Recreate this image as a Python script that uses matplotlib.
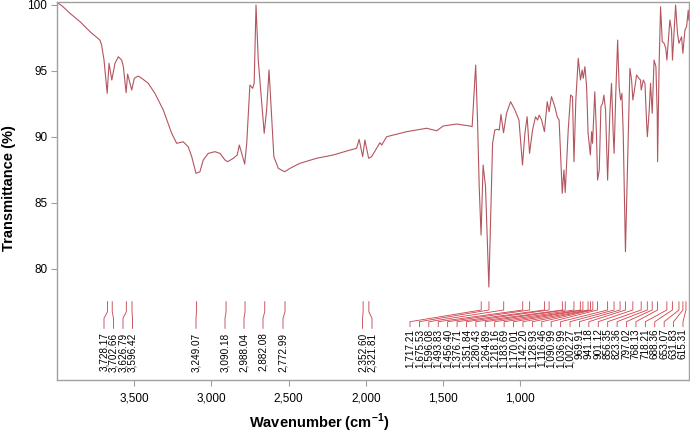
import matplotlib
matplotlib.use('Agg')
import matplotlib.pyplot as plt
from matplotlib.transforms import blended_transform_factory

plt.rcParams['font.family'] = ['Liberation Sans', 'DejaVu Sans']
plt.rcParams['mathtext.fontset'] = 'custom'
plt.rcParams['mathtext.rm'] = 'Liberation Sans'
plt.rcParams['mathtext.bf'] = 'Liberation Sans:bold'

# ---------------- data ----------------
wavenumber = [4000, 3973, 3930, 3876, 3822, 3769, 3760, 3747, 3730, 3720, 3705, 3688, 3670, 3652,
              3643, 3628, 3620, 3598, 3584, 3563, 3544, 3509, 3473, 3428, 3383, 3356, 3321, 3294,
              3275, 3252, 3231, 3213, 3186, 3150, 3123, 3096, 3082, 3051, 3030, 3019, 3006, 2990,
              2979, 2962, 2947, 2939, 2929, 2917, 2885, 2872, 2859, 2845, 2833, 2809, 2775, 2746,
              2693, 2603, 2513, 2424, 2388, 2374, 2355, 2343, 2323, 2307, 2262, 2253, 2226, 2119,
              2011, 1957, 1922, 1850, 1778, 1766, 1747, 1737, 1728, 1718, 1707, 1694, 1676, 1665,
              1656, 1644, 1631, 1620, 1611, 1597, 1581, 1559, 1536, 1514, 1495, 1482, 1470, 1457,
              1441, 1425, 1414, 1405, 1392, 1377, 1362, 1352, 1339, 1321, 1308, 1298, 1281, 1272,
              1265, 1249, 1236, 1226, 1218, 1208, 1195, 1183, 1174, 1168, 1159, 1150, 1142, 1130,
              1123, 1118, 1106, 1097, 1091, 1082, 1073, 1064, 1057, 1048, 1037, 1025, 1016, 1007,
              1002, 993, 983, 975, 967, 960, 953, 941, 930, 917, 908, 901, 890, 881,
              869, 860, 856, 845, 836, 827, 823, 813, 806, 797, 787, 777, 770, 768,
              760, 752, 743, 733, 724, 718, 702, 693, 688, 671, 661, 653, 639, 632,
              621, 612, 603, 600]
transmittance = [100.15, 99.9, 99.33, 98.7, 97.94, 97.31, 96.94, 95.8, 93.28, 95.55, 94.29, 95.55, 96.05, 95.8,
                 95.3, 93.33, 94.74, 93.53, 94.42, 94.59, 94.42, 94.04, 93.28, 92.02, 90.26, 89.5, 89.62, 89.24,
                 88.49, 87.23, 87.35, 88.24, 88.74, 88.87, 88.74, 88.24, 88.11, 88.37, 88.62, 89.37, 88.74, 87.93,
                 89.5, 93.91, 93.66, 94.06, 99.96, 95.8, 90.26, 92.02, 95.05, 91.51, 88.49, 87.61, 87.35, 87.61,
                 87.99, 88.37, 88.62, 88.99, 89.12, 89.8, 88.49, 89.75, 88.37, 88.49, 89.55, 89.37, 90.0, 90.38,
                 90.64, 90.45, 90.81, 90.96, 90.81, 90.76, 95.42, 91.26, 86.22, 82.56, 87.86, 86.22, 78.63, 84.7,
                 89.5, 90.51, 90.56, 90.51, 91.69, 90.3, 91.77, 92.65, 92.02, 91.26, 87.86, 90.26, 91.51, 88.74,
                 90.51, 91.51, 91.26, 91.64, 91.26, 90.38, 92.65, 91.89, 93.03, 92.27, 91.51, 91.26, 85.72, 87.48,
                 85.78, 90.51, 93.15, 93.03, 88.11, 92.78, 95.93, 94.29, 95.05, 94.42, 95.3, 93.78, 90.26, 88.62,
                 90.38, 89.5, 93.4, 90.26, 86.72, 87.48, 92.27, 92.53, 93.15, 92.02, 86.72, 91.77, 94.04, 90.26,
                 88.74, 93.28, 97.31, 93.78, 92.78, 93.28, 90.26, 81.3, 87.73, 95.17, 94.29, 92.78, 93.78, 94.67,
                 94.42, 94.29, 93.53, 94.29, 94.04, 91.01, 90.0, 92.02, 94.04, 91.77, 95.8, 95.3, 91.77, 88.11,
                 95.3, 99.83, 97.19, 97.07, 96.69, 95.8, 98.83, 98.07, 95.8, 99.96, 97.82, 97.07, 97.56, 96.31,
                 98.07, 98.32, 99.58, 98.83]

# peak labels (cm-1)
peaks_left = [3728.17, 3702.66, 3626.79, 3596.42, 3249.07, 3090.18, 2988.04, 2882.08, 2772.99,
              2352.60, 2321.81]
peaks_right = [1717.21, 1675.53, 1596.08, 1493.83, 1456.40, 1376.71, 1351.84, 1280.43, 1264.89,
               1218.16, 1183.69, 1170.01, 1142.20, 1128.93, 1116.46, 1090.99, 1036.99, 1002.27,
               969.91, 941.18, 901.12, 856.35, 823.36, 797.02, 768.13, 718.21, 688.36, 653.07,
               631.83, 615.31]

# axis tick labels as printed on the original figure
tick_values = [3500, 3000, 2500, 2000, 1500, 1000]
y_ticks = [80, 85, 90, 95, 100]

# ---------------- layout ----------------
W, H = 690, 433
fig = plt.figure(figsize=(W / 100, H / 100), dpi=100)
ax = fig.add_axes([57 / W, 53 / H, 632 / W, 378 / H])

line_col = '#b4555e'
ax.plot(wavenumber, transmittance, color=line_col, lw=0.8)
ax.set_xlim(4000, 599)
ax.set_ylim(71.6, 100.19)


# the printed tick scale of the original is compressed relative to the spectrum
def tick_pos(t):
    return 4000 - (4000 - t) * 0.8312


ax.set_xticks([tick_pos(t) for t in tick_values], labels=[f"{t:,}" for t in tick_values])
ax.set_yticks(y_ticks, labels=[str(v) for v in y_ticks])

for s in ax.spines.values():
    s.set_color('#a0a0a0')
    s.set_linewidth(1.0)
ax.tick_params(axis='both', colors='#a0a0a0', labelcolor='black', labelsize=8.5,
               length=4, width=0.8, direction='out')
ax.tick_params(axis='x', pad=5)
ax.tick_params(axis='y', pad=3)

fig.text(9 / W, 1 - 188 / H, 'Transmittance (%)', rotation=90, fontweight='bold',
         fontsize=10.5, ha='center', va='center')
fig.text(319 / W, 1 - 423 / H, r'Wavenumber (cm$^{\mathbf{-1}}$)', fontweight='bold',
         fontsize=10.5, ha='center', va='center')

# ---------------- peak annotations ----------------
trans = blended_transform_factory(ax.transData, ax.transAxes)
x0, x1 = ax.get_xlim()


def frac_to_w(f):
    return x0 + f * (x1 - x0)


def py(ypix):
    return (380 - ypix) / 378


ann_col = '#c85a62'
left_bottom_px = [104, 113.5, 123, 132.5, 196, 225, 244, 263, 283, 362.5, 372]
for v, bx in zip(peaks_left, left_bottom_px):
    bw = frac_to_w((bx - 57) / 632)
    ax.plot([v, v, bw, bw], [py(301.7), py(311.7), py(318.3), py(328.3)],
            transform=trans, color=ann_col, lw=0.7, clip_on=False)
    ax.text(bw, py(332.5), f"{v:,.2f}", transform=trans, rotation=90, ha='center',
            va='top', fontsize=7.2, color='black')

n = len(peaks_right)
for i, v in enumerate(peaks_right):
    bx = 410 + i * (683 - 410) / (n - 1)
    bw = frac_to_w((bx - 57) / 632)
    ax.plot([v, v, bw, bw], [py(301.7), py(310), py(321.7), py(326.7)],
            transform=trans, color='#d0404a', lw=0.6, clip_on=False)
    ax.text(bw, py(328.5), f"{v:,.2f}", transform=trans, rotation=90, ha='center',
            va='top', fontsize=7.2, color='black')

fig.savefig('out.png', dpi=100)
